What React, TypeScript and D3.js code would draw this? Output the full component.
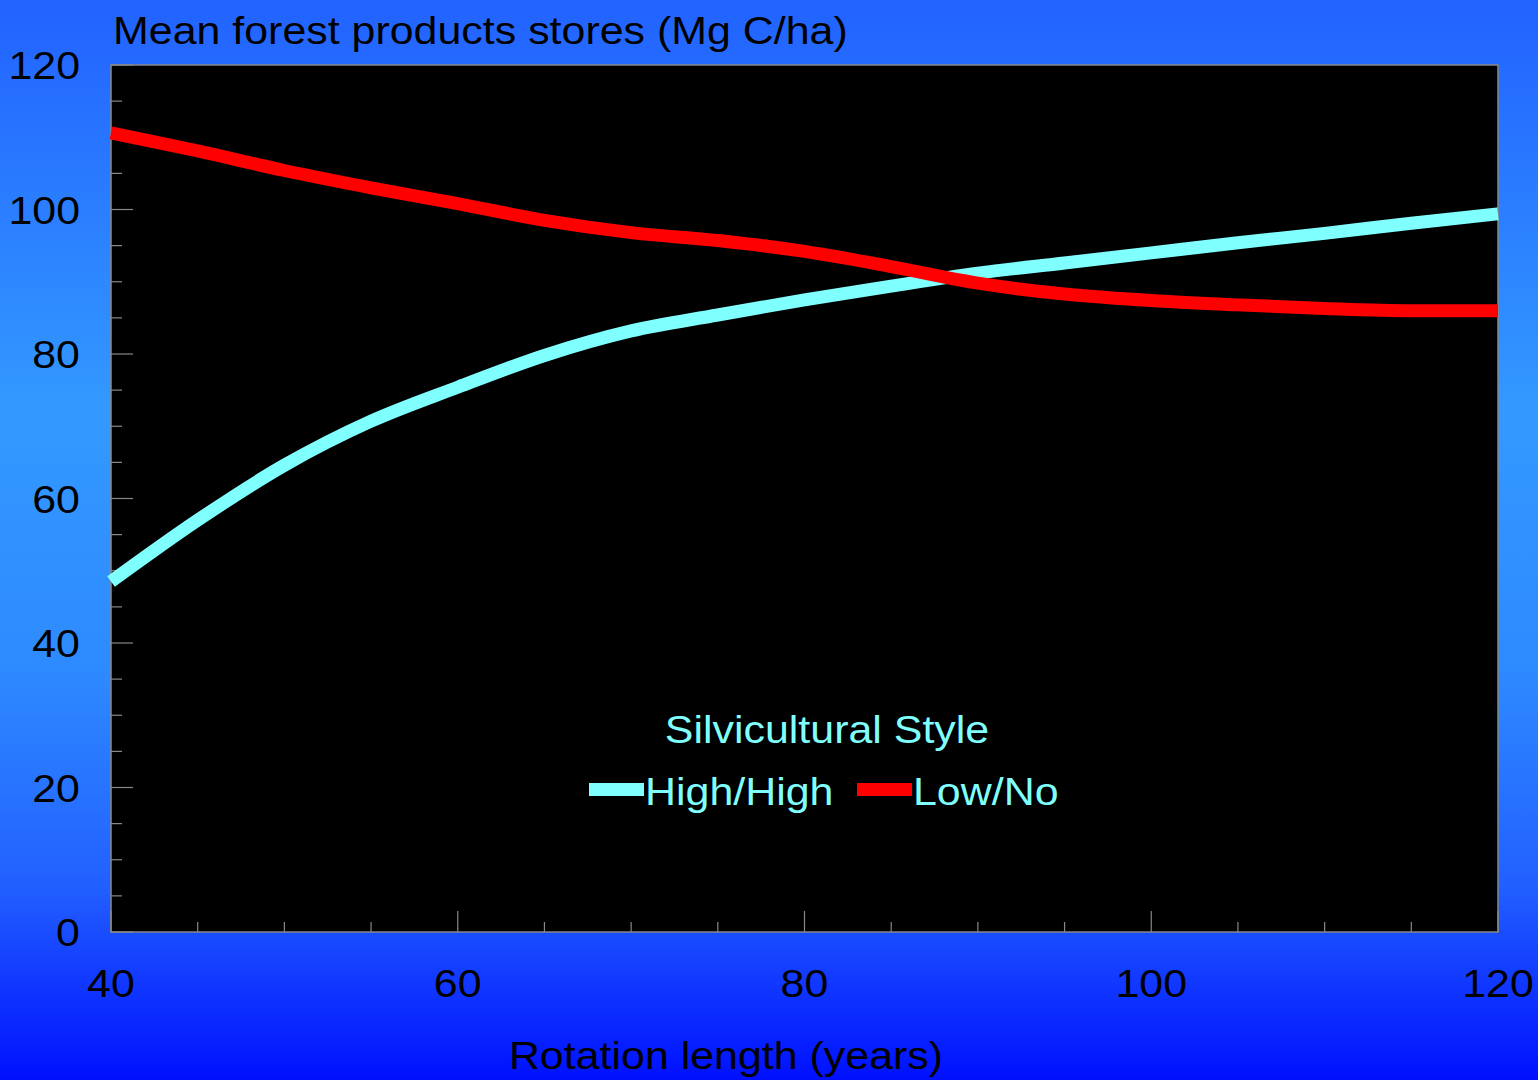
import React from "react";
import * as d3 from "d3";

const years = [40, 45, 50, 55, 60, 65, 70, 75, 80, 85, 90, 95, 100, 105, 110, 115, 120];
const highHigh = [48.5, 57.0, 64.6, 70.7, 75.4, 79.8, 83.2, 85.4, 87.5, 89.4, 91.2, 92.6, 94.0, 95.4, 96.7, 98.1, 99.4];
const lowNo = [110.6, 108.1, 105.4, 103.0, 100.8, 98.5, 96.8, 95.7, 94.2, 92.1, 89.8, 88.3, 87.4, 86.8, 86.3, 86.0, 86.0];
const xTicks = [40, 60, 80, 100, 120];
const yTicks = [0, 20, 40, 60, 80, 100, 120];
const seriesNames = ["High/High", "Low/No"];
const seriesColors = ["#80ffff", "#ff0000"];

const W = 1538;
const H = 1080;
const FONT = "'Liberation Sans', Arial, Helvetica, sans-serif";
const SX = 1.13;

function T(props: {
  x: number;
  y: number;
  anchor?: string;
  fill?: string;
  children: React.ReactNode;
}) {
  return (
    <g transform={`translate(${props.x},${props.y}) scale(${SX},1)`}>
      <text
        x={0}
        y={0}
        textAnchor={props.anchor || "start"}
        fontFamily={FONT}
        fontSize={38}
        fill={props.fill || "#000"}
      >
        {props.children}
      </text>
    </g>
  );
}

export default function App() {
  const x = d3.scaleLinear().domain([40, 120]).range([111, 1498]);
  const y = d3.scaleLinear().domain([0, 120]).range([932, 65]);
  const line = d3
    .line<[number, number]>()
    .x((d) => x(d[0]))
    .y((d) => y(d[1]))
    .curve(d3.curveMonotoneX);
  const series = [highHigh, lowNo];
  const xMinor = d3.range(40, 121, 5);
  const yMinor = d3.range(0, 121, 5);
  const axisColor = "#888888";

  return (
    <svg
      width={W}
      height={H}
      style={{ position: "fixed", left: 0, top: 0, display: "block" }}
    >
      <defs>
        <linearGradient id="bg" x1="0" y1="0" x2="0" y2="1">
          <stop offset="0" stopColor="#2262ff" />
          <stop offset="0.38" stopColor="#3399ff" />
          <stop offset="0.62" stopColor="#2e8aff" />
          <stop offset="0.82" stopColor="#2260ff" />
          <stop offset="1" stopColor="#0010ff" />
        </linearGradient>
      </defs>
      <rect x={0} y={0} width={W} height={H} fill="url(#bg)" />
      <rect
        x={x(40)}
        y={y(120)}
        width={x(120) - x(40)}
        height={y(0) - y(120)}
        fill="#000"
        stroke={axisColor}
        strokeWidth={1.5}
      />
      {yMinor.map((v) => (
        <line
          key={"yt" + v}
          x1={x(40)}
          x2={x(40) + (v % 20 === 0 ? 22 : 11)}
          y1={y(v)}
          y2={y(v)}
          stroke={axisColor}
          strokeWidth={1.2}
        />
      ))}
      {xMinor.map((v) => (
        <line
          key={"xt" + v}
          x1={x(v)}
          x2={x(v)}
          y1={y(0)}
          y2={y(0) - (v % 20 === 0 ? 21 : 10)}
          stroke={axisColor}
          strokeWidth={1.2}
        />
      ))}
      {yTicks.map((v) => (
        <T key={"yl" + v} x={80} y={y(v) + 14} anchor="end">
          {v}
        </T>
      ))}
      {xTicks.map((v) => (
        <T key={"xl" + v} x={x(v)} y={997} anchor="middle">
          {v}
        </T>
      ))}
      <T x={113} y={44}>
        Mean forest products stores (Mg C/ha)
      </T>
      <T x={726} y={1069} anchor="middle">
        Rotation length (years)
      </T>
      {series.map((s, i) => (
        <path
          key={"s" + i}
          d={line(years.map((yr, j) => [yr, s[j]] as [number, number])) || ""}
          fill="none"
          stroke={seriesColors[i]}
          strokeWidth={13}
          strokeLinecap="butt"
          strokeLinejoin="round"
        />
      ))}
      <T x={827} y={743} anchor="middle" fill="#80ffff">
        Silvicultural Style
      </T>
      {seriesNames.map((name, i) => {
        const sx = i === 0 ? 589 : 857;
        return (
          <g key={"lg" + i}>
            <rect x={sx} y={783} width={55} height={13} fill={seriesColors[i]} />
            <T x={sx + 56} y={805} fill="#80ffff">
              {name}
            </T>
          </g>
        );
      })}
    </svg>
  );
}
